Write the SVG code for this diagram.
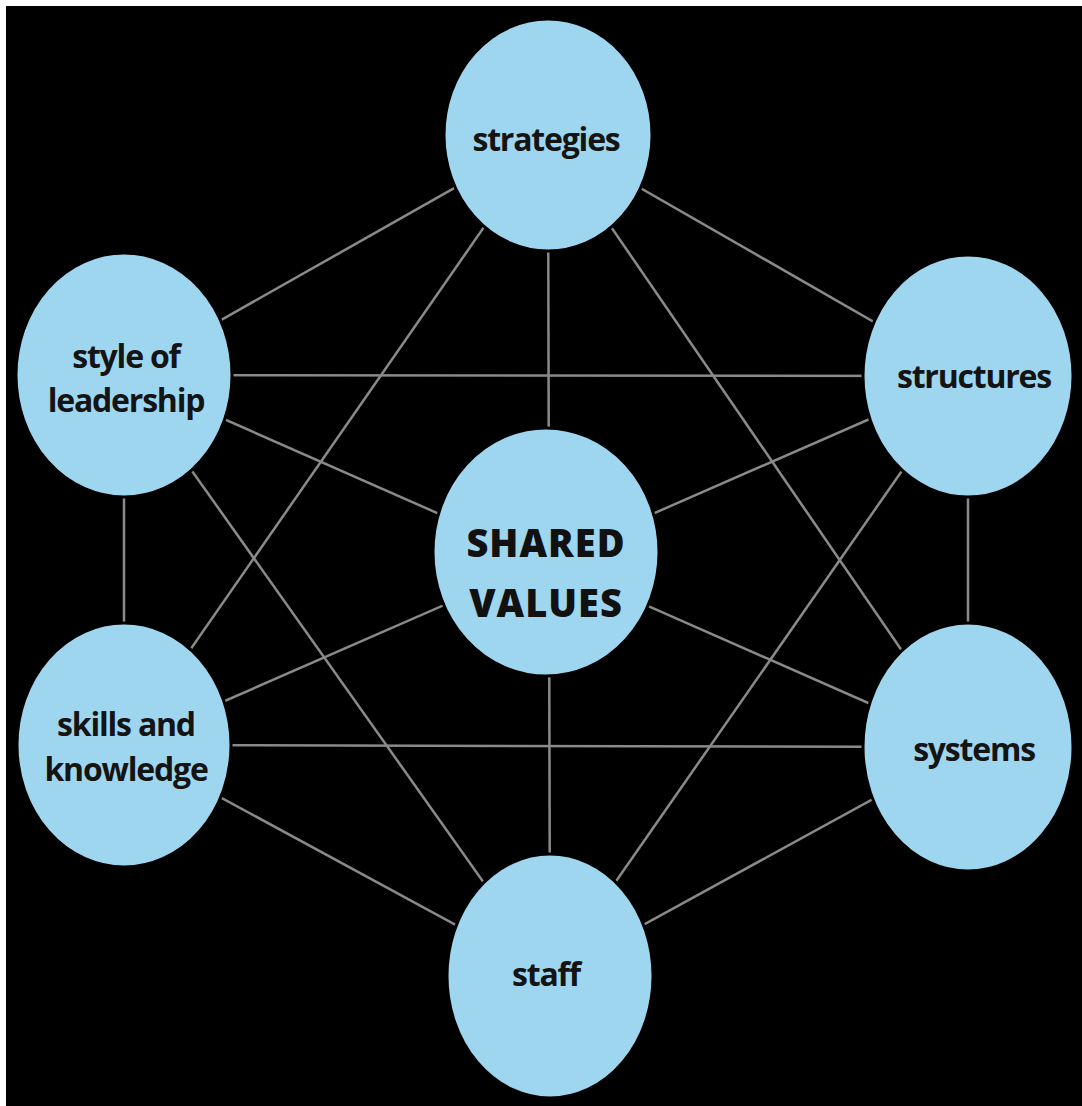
<svg xmlns="http://www.w3.org/2000/svg" width="1082" height="1106" viewBox="0 0 1082 1106">
<style>
.node ellipse{fill:#9fd6ef;stroke:#000;stroke-width:3}
.lbl{font-family:"Open Sans","Noto Sans",sans-serif;font-weight:700;font-size:32px;fill:#141414;text-anchor:middle;letter-spacing:-1.2px}
.big{font-family:"Open Sans","Noto Sans",sans-serif;font-weight:800;font-size:38px;fill:#111;text-anchor:middle;letter-spacing:1px}
#connectors line{stroke:#8a8a8a;stroke-width:2.5}
</style>
<rect x="0" y="0" width="1082" height="1106" fill="#fff"/>
<rect x="6" y="6" width="1076" height="1100" fill="#000"/>
<g id="connectors">
<line x1="548" y1="135" x2="124" y2="375"/>
<line x1="548" y1="135" x2="968" y2="376"/>
<line x1="548" y1="135" x2="550" y2="976"/>
<line x1="548" y1="135" x2="124" y2="745"/>
<line x1="548" y1="135" x2="968" y2="747"/>
<line x1="124" y1="375" x2="968" y2="376"/>
<line x1="124" y1="375" x2="124" y2="745"/>
<line x1="124" y1="375" x2="550" y2="976"/>
<line x1="124" y1="375" x2="968" y2="747"/>
<line x1="968" y1="376" x2="124" y2="745"/>
<line x1="968" y1="376" x2="968" y2="747"/>
<line x1="968" y1="376" x2="550" y2="976"/>
<line x1="124" y1="745" x2="968" y2="747"/>
<line x1="124" y1="745" x2="550" y2="976"/>
<line x1="968" y1="747" x2="550" y2="976"/>
</g>
<g id="node-strategies" class="node"><ellipse cx="548" cy="135" rx="104" ry="116"/><text class="lbl" x="546" y="151">strategies</text></g>
<g id="node-style" class="node"><ellipse cx="124" cy="375" rx="108" ry="122"/><text class="lbl" x="126" y="368">style of</text><text class="lbl" x="126" y="412">leadership</text></g>
<g id="node-structures" class="node"><ellipse cx="968" cy="376" rx="105" ry="121"/><text class="lbl" x="974" y="388">structures</text></g>
<g id="node-shared" class="node"><ellipse cx="546" cy="552" rx="113" ry="124"/><text class="big" x="546" y="557">SHARED</text><text class="big" x="546" y="617">VALUES</text></g>
<g id="node-skills" class="node"><ellipse cx="124" cy="745" rx="107" ry="122"/><text class="lbl" x="126" y="736">skills and</text><text class="lbl" x="126" y="781">knowledge</text></g>
<g id="node-systems" class="node"><ellipse cx="968" cy="747" rx="105" ry="124"/><text class="lbl" x="974" y="761">systems</text></g>
<g id="node-staff" class="node"><ellipse cx="550" cy="976" rx="103" ry="122"/><text class="lbl" x="546" y="986">staff</text></g>
</svg>
